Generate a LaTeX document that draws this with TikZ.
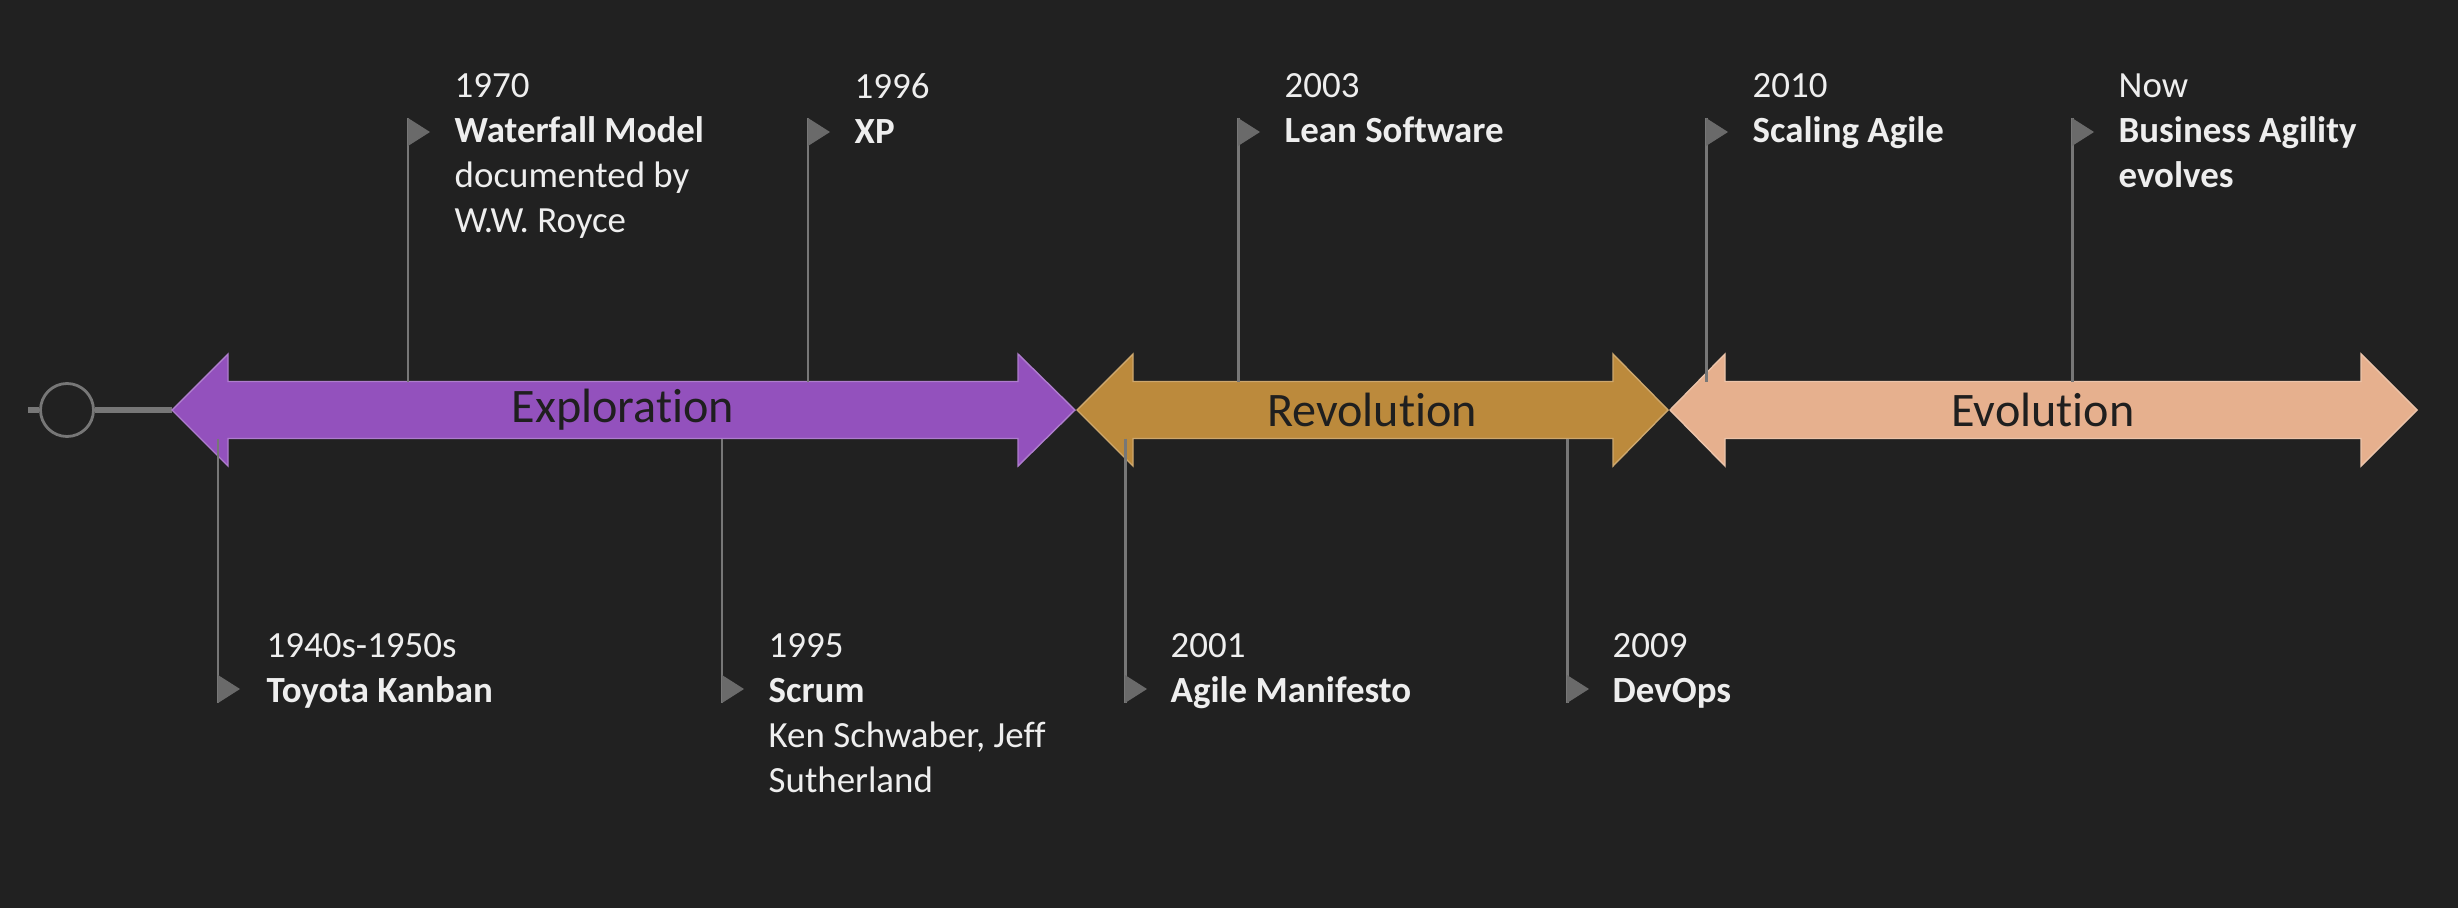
\documentclass[tikz,border=0pt]{standalone}
\usepackage{fontspec}
\setmainfont{Carlito}[Ligatures=NoCommon]
\usetikzlibrary{calc}

\definecolor{bgdark}{HTML}{212121}
\definecolor{explore}{HTML}{9351BD}
\definecolor{revolt}{HTML}{BC8A3C}
\definecolor{evolve}{HTML}{E6B08E}
\definecolor{polegray}{HTML}{777777}
\definecolor{flaggray}{HTML}{6A6A6A}
\definecolor{eventtext}{HTML}{EEEEEE}

\tikzset{
  phase/.style={inner sep=0pt, text=black!88, font=\fontsize{13.7}{16}\selectfont},
  event/.style={anchor=north west, align=left, inner sep=0pt, text=eventtext, font=\fontsize{10.5}{12.8}\selectfont},
  pole/.style={draw=polegray, line width=0.85pt},
  flag/.style={fill=flaggray},
}

\begin{document}
\begin{tikzpicture}
    \useasboundingbox[fill=bgdark] (0,0) rectangle (24.58,9.08);

    % start of the line
    \coordinate (lineStart) at (0.28,4.98);
    \coordinate (exploTip) at (1.72,4.98);
    \node (start) [circle, draw=polegray, line width=0.8pt, fill=bgdark, minimum size=0.53cm, inner sep=0pt] at (0.67,4.98) {};
    \draw[line width=1.7pt, polegray] (lineStart) -- (start.west);
    \draw[line width=1.7pt, polegray] (start.east) -- (exploTip);

    % the three phases
    \draw[fill=explore, draw=explore!75!white, line width=0.4pt] (exploTip) -- (2.28,5.54) -- (2.28,5.265) -- (10.18,5.265) -- (10.18,5.54) -- (10.75,4.98) -- (10.18,4.42) -- (10.18,4.695) -- (2.28,4.695) -- (2.28,4.42) -- cycle;
    \draw[fill=revolt, draw=revolt!75!white, line width=0.4pt] (10.77,4.98) -- (11.33,5.54) -- (11.33,5.265) -- (16.13,5.265) -- (16.13,5.54) -- (16.68,4.98) -- (16.13,4.42) -- (16.13,4.695) -- (11.33,4.695) -- (11.33,4.42) -- cycle;
    \draw[fill=evolve, draw=evolve!75!white, line width=0.4pt] (16.70,4.98) -- (17.25,5.54) -- (17.25,5.265) -- (23.61,5.265) -- (23.61,5.54) -- (24.17,4.98) -- (23.61,4.42) -- (23.61,4.695) -- (17.25,4.695) -- (17.25,4.42) -- cycle;

    \node (explo) [phase] at (6.23,4.98) {Exploration};
    \node (revo) [phase] at (13.72,4.98) {Revolution};
    \node (evo) [phase] at (20.43,4.98) {Evolution};

    % events above the line
    \coordinate (f1970) at (4.08,7.90);
    \draw[pole] (4.08,5.265) -- (f1970);
    \fill[flag] (f1970) -- ++(0.22,-0.14) -- ++(-0.22,-0.14) -- cycle;
    \node (e1970) [event] at (4.54,8.35) {1970\\\textbf{Waterfall Model}\\documented by\\W.W. Royce};

    \coordinate (f1996) at (8.08,7.90);
    \draw[pole] (8.08,5.265) -- (f1996);
    \fill[flag] (f1996) -- ++(0.22,-0.14) -- ++(-0.22,-0.14) -- cycle;
    \node (e1996) [event] at (8.54,8.35) {1996\\\textbf{XP}};

    \coordinate (f2003) at (12.38,7.90);
    \draw[pole] (12.38,5.265) -- (f2003);
    \fill[flag] (f2003) -- ++(0.22,-0.14) -- ++(-0.22,-0.14) -- cycle;
    \node (e2003) [event] at (12.84,8.35) {2003\\\textbf{Lean Software}};

    \coordinate (f2010) at (17.06,7.90);
    \draw[pole] (17.06,5.265) -- (f2010);
    \fill[flag] (f2010) -- ++(0.22,-0.14) -- ++(-0.22,-0.14) -- cycle;
    \node (e2010) [event] at (17.52,8.35) {2010\\\textbf{Scaling Agile}};

    \coordinate (fNow) at (20.72,7.90);
    \draw[pole] (20.72,5.265) -- (fNow);
    \fill[flag] (fNow) -- ++(0.22,-0.14) -- ++(-0.22,-0.14) -- cycle;
    \node (eNow) [event] at (21.18,8.35) {Now\\\textbf{Business Agility}\\\textbf{evolves}};

    % events below the line
    \coordinate (f1940) at (2.18,2.05);
    \draw[pole] (2.18,4.695) -- (f1940);
    \fill[flag] (f1940) -- ++(0,0.28) -- ++(0.22,-0.14) -- cycle;
    \node (e1940) [event] at (2.66,2.75) {1940s-1950s\\\textbf{Toyota Kanban}};

    \coordinate (f1995) at (7.22,2.05);
    \draw[pole] (7.22,4.695) -- (f1995);
    \fill[flag] (f1995) -- ++(0,0.28) -- ++(0.22,-0.14) -- cycle;
    \node (e1995) [event] at (7.68,2.75) {1995\\\textbf{Scrum}\\Ken Schwaber, Jeff\\Sutherland};

    \coordinate (f2001) at (11.25,2.05);
    \draw[pole] (11.25,4.695) -- (f2001);
    \fill[flag] (f2001) -- ++(0,0.28) -- ++(0.22,-0.14) -- cycle;
    \node (e2001) [event] at (11.70,2.75) {2001\\\textbf{Agile Manifesto}};

    \coordinate (f2009) at (15.67,2.05);
    \draw[pole] (15.67,4.695) -- (f2009);
    \fill[flag] (f2009) -- ++(0,0.28) -- ++(0.22,-0.14) -- cycle;
    \node (e2009) [event] at (16.12,2.75) {2009\\\textbf{DevOps}};
\end{tikzpicture}
\end{document}
